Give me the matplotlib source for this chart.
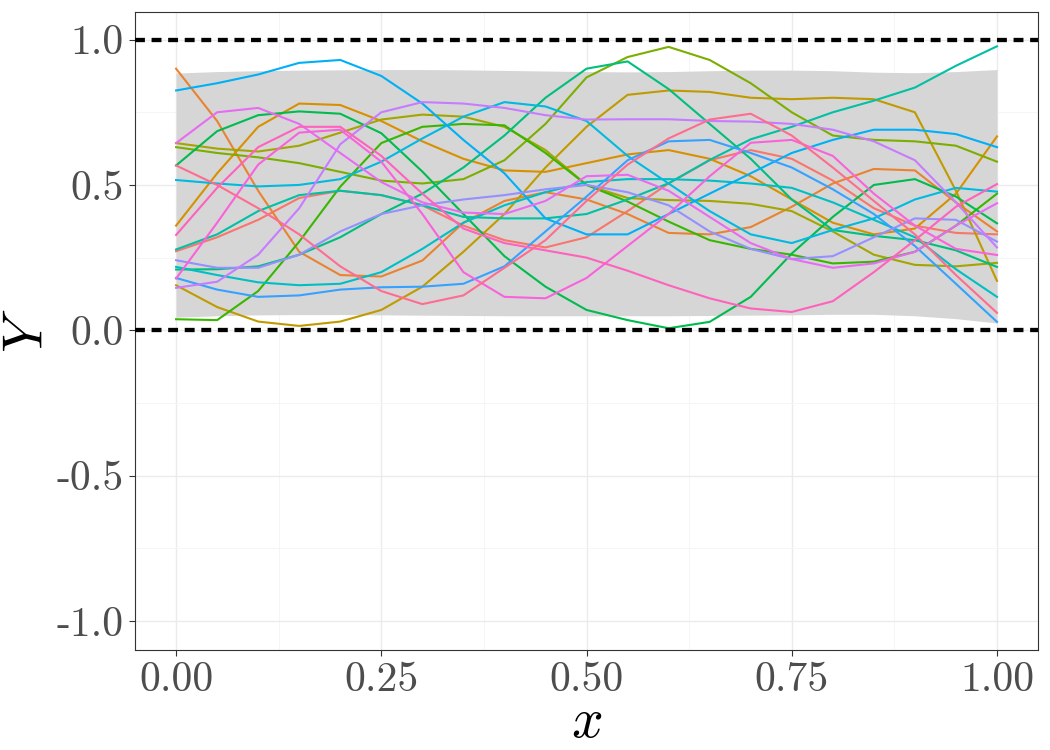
# Gaussian-process style sample paths with a grey band and bounds at 0 and 1
import matplotlib
matplotlib.use("Agg")
import matplotlib.pyplot as plt

plt.rcParams["font.family"] = ["cmr10", "DejaVu Serif"]
plt.rcParams["mathtext.fontset"] = "cm"
plt.rcParams["axes.unicode_minus"] = False
plt.rcParams["axes.formatter.use_mathtext"] = True

# x positions the paths were read at
x_grid = [0.00, 0.05, 0.10, 0.15, 0.20, 0.25, 0.30, 0.35, 0.40, 0.45, 0.50,
          0.55, 0.60, 0.65, 0.70, 0.75, 0.80, 0.85, 0.90, 0.95, 1.00]

# grey band (lower / upper edge)
band_lo = [0.045, 0.050, 0.053, 0.054, 0.054, 0.053, 0.052, 0.051, 0.050, 0.050, 0.050,
           0.050, 0.050, 0.051, 0.052, 0.053, 0.055, 0.055, 0.050, 0.040, 0.025]
band_hi = [0.885, 0.890, 0.893, 0.895, 0.896, 0.897, 0.897, 0.896, 0.894, 0.892, 0.890,
           0.889, 0.890, 0.893, 0.895, 0.895, 0.893, 0.888, 0.886, 0.890, 0.897]

# sample paths (one per colour)
salmon = [0.272, 0.32, 0.38, 0.455, 0.48, 0.465, 0.43, 0.36, 0.31, 0.285, 0.32,
          0.41, 0.505, 0.585, 0.62, 0.59, 0.515, 0.42, 0.36, 0.335, 0.33]
orange = [0.90, 0.72, 0.48, 0.27, 0.19, 0.185, 0.24, 0.37, 0.445, 0.475, 0.45,
          0.40, 0.335, 0.33, 0.355, 0.425, 0.505, 0.555, 0.55, 0.44, 0.34]
gold_rise = [0.36, 0.54, 0.70, 0.78, 0.775, 0.72, 0.65, 0.59, 0.55, 0.545, 0.575,
             0.605, 0.62, 0.59, 0.53, 0.45, 0.37, 0.33, 0.35, 0.47, 0.667]
gold_low = [0.155, 0.08, 0.03, 0.015, 0.03, 0.07, 0.15, 0.27, 0.40, 0.56, 0.70,
            0.81, 0.825, 0.82, 0.80, 0.795, 0.80, 0.795, 0.75, 0.48, 0.17]
olive2 = [0.644, 0.625, 0.615, 0.635, 0.68, 0.725, 0.742, 0.735, 0.70, 0.62, 0.50,
          0.455, 0.448, 0.445, 0.435, 0.41, 0.34, 0.26, 0.225, 0.22, 0.232]
olive_top = [0.63, 0.61, 0.595, 0.575, 0.545, 0.515, 0.505, 0.52, 0.585, 0.71, 0.87,
             0.94, 0.975, 0.93, 0.85, 0.75, 0.67, 0.655, 0.65, 0.635, 0.58]
green_low = [0.038, 0.035, 0.135, 0.305, 0.494, 0.644, 0.70, 0.71, 0.705, 0.61, 0.50,
             0.443, 0.374, 0.31, 0.28, 0.26, 0.23, 0.236, 0.27, 0.36, 0.47]
green_up = [0.567, 0.685, 0.74, 0.753, 0.745, 0.678, 0.546, 0.40, 0.255, 0.15, 0.07,
            0.035, 0.007, 0.029, 0.115, 0.264, 0.39, 0.50, 0.52, 0.46, 0.368]
teal_big = [0.209, 0.21, 0.22, 0.26, 0.32, 0.40, 0.47, 0.56, 0.67, 0.80, 0.90,
            0.925, 0.83, 0.71, 0.59, 0.45, 0.345, 0.325, 0.31, 0.275, 0.218]
teal_end = [0.278, 0.33, 0.41, 0.465, 0.48, 0.465, 0.43, 0.39, 0.385, 0.385, 0.40,
            0.45, 0.506, 0.586, 0.657, 0.70, 0.75, 0.79, 0.835, 0.91, 0.977]
cyan_low = [0.218, 0.19, 0.165, 0.155, 0.16, 0.20, 0.28, 0.37, 0.43, 0.475, 0.51,
            0.52, 0.52, 0.515, 0.505, 0.49, 0.44, 0.38, 0.32, 0.21, 0.115]
cyan_flat = [0.517, 0.505, 0.495, 0.50, 0.52, 0.58, 0.66, 0.735, 0.785, 0.77, 0.72,
             0.60, 0.505, 0.41, 0.33, 0.30, 0.345, 0.385, 0.45, 0.49, 0.477]
blue_top = [0.825, 0.85, 0.88, 0.92, 0.93, 0.875, 0.78, 0.655, 0.54, 0.385, 0.33,
            0.33, 0.40, 0.47, 0.54, 0.61, 0.655, 0.69, 0.69, 0.675, 0.63]
blue_bottom = [0.18, 0.14, 0.115, 0.12, 0.14, 0.148, 0.15, 0.16, 0.22, 0.34, 0.46,
               0.585, 0.65, 0.655, 0.61, 0.56, 0.485, 0.40, 0.29, 0.16, 0.029]
purple_blue = [0.241, 0.215, 0.215, 0.26, 0.34, 0.40, 0.43, 0.45, 0.465, 0.485, 0.50,
               0.475, 0.43, 0.34, 0.28, 0.245, 0.255, 0.32, 0.385, 0.38, 0.305]
purple = [0.146, 0.167, 0.26, 0.42, 0.64, 0.75, 0.785, 0.78, 0.765, 0.74, 0.725,
          0.726, 0.726, 0.72, 0.718, 0.71, 0.69, 0.65, 0.585, 0.44, 0.285]
magenta_top = [0.644, 0.75, 0.765, 0.71, 0.61, 0.51, 0.44, 0.405, 0.40, 0.445, 0.53,
               0.535, 0.48, 0.39, 0.30, 0.245, 0.215, 0.23, 0.27, 0.36, 0.437]
magenta2 = [0.178, 0.37, 0.57, 0.68, 0.69, 0.58, 0.40, 0.20, 0.115, 0.11, 0.18,
            0.29, 0.40, 0.53, 0.645, 0.655, 0.60, 0.47, 0.36, 0.28, 0.259]
pink_a = [0.328, 0.49, 0.63, 0.70, 0.70, 0.60, 0.47, 0.35, 0.30, 0.275, 0.25,
          0.205, 0.155, 0.11, 0.075, 0.063, 0.10, 0.20, 0.31, 0.425, 0.503]
pink_desc = [0.567, 0.50, 0.42, 0.33, 0.22, 0.135, 0.09, 0.12, 0.215, 0.31, 0.445,
             0.57, 0.66, 0.725, 0.745, 0.67, 0.56, 0.445, 0.33, 0.19, 0.06]

paths = [salmon, orange, gold_rise, gold_low, olive2, olive_top, green_low, green_up,
         teal_big, teal_end, cyan_low, cyan_flat, blue_top, blue_bottom, purple_blue,
         purple, magenta_top, magenta2, pink_a, pink_desc]
# ggplot hue palette for 20 groups
colours = ["#F8766D", "#EA8331", "#D89000", "#C09B00", "#A3A500", "#7CAE00", "#39B600",
           "#00BB4E", "#00BF7D", "#00C1A3", "#00BFC4", "#00BAE0", "#00B0F6", "#35A2FF",
           "#9590FF", "#C77CFF", "#E76BF3", "#FA62DB", "#FF62BC", "#FF6C91"]

x_ticks = [0.0, 0.25, 0.5, 0.75, 1.0]
x_labels = ["0.00", "0.25", "0.50", "0.75", "1.00"]
y_ticks = [-1.0, -0.5, 0.0, 0.5, 1.0]
y_labels = ["-1.0", "-0.5", "0.0", "0.5", "1.0"]
bounds = [0.0, 1.0]

fig = plt.figure(figsize=(10.5, 7.5), dpi=100)
ax = fig.add_axes([0.1286, 0.1333, 0.86, 0.8507])

ax.fill_between(x_grid, band_lo, band_hi, color="#D6D6D6", lw=0, zorder=1)
for ys, c in zip(paths, colours):
    ax.plot(x_grid, ys, color=c, lw=1.5, zorder=2, solid_joinstyle="round")
for b in bounds:
    ax.axhline(b, color="black", lw=3.1, dashes=(2.3, 1.55), dash_capstyle="butt", zorder=3)

ax.set_xlim(-0.05, 1.05)
ax.set_ylim(-1.1, 1.095)

# theme_bw style grid
ax.set_xticks(x_ticks)
ax.set_xticklabels(x_labels)
ax.set_yticks(y_ticks)
ax.set_yticklabels(y_labels)
ax.set_xticks([0.125, 0.375, 0.625, 0.875], minor=True)
ax.set_yticks([-0.75, -0.25, 0.25, 0.75], minor=True)
ax.grid(which="major", color="#EBEBEB", lw=1.0, zorder=0)
ax.grid(which="minor", color="#F4F4F4", lw=0.6, zorder=0)
ax.set_axisbelow(True)
ax.tick_params(which="minor", length=0)
ax.tick_params(which="major", length=4, width=0.8, color="#333333",
               labelsize=30, labelcolor="#4D4D4D", pad=4)
for s in ax.spines.values():
    s.set_color("#333333")
    s.set_linewidth(0.8)

ax.set_xlabel("$x$", fontsize=40, labelpad=0)
ax.set_ylabel("$Y$", fontsize=40)
ax.yaxis.set_label_coords(-0.117, 0.5)
ax.yaxis.label.set_va("center")

fig.savefig("out.png", dpi=100)
